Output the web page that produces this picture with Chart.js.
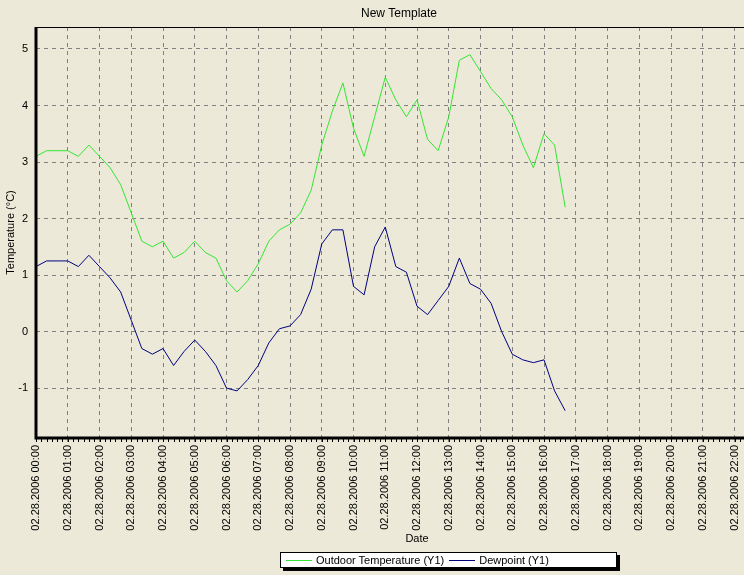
<!DOCTYPE html>
<html><head><meta charset="utf-8">
<script src="https://cdn.jsdelivr.net/npm/chart.js@4"></script>
<style>
html,body{margin:0;padding:0;background:#ECE9D8;overflow:hidden;width:744px;height:575px;}
#wrap{position:absolute;left:0;top:0;width:800px;height:575px;}
#legend{position:absolute;left:280px;top:552px;width:335px;height:14px;background:#fff;border:1px solid #000;box-shadow:3px 3px 0 #000;font:11px "Liberation Sans",Arial,sans-serif;color:#000;display:flex;align-items:center;white-space:nowrap;}
#legend .ln{display:inline-block;width:26px;height:0;border-top:1px solid;margin:0 4px 0 5px;}
</style></head>
<body>
<div id="wrap"><canvas id="c" width="800" height="575"></canvas></div>
<div id="legend"></div>
<script>
const times = ['00:00','00:20','00:40','01:00','01:20','01:40','02:00','02:20','02:40','03:00',
 '03:20','03:40','04:00','04:20','04:40','05:00','05:20','05:40','06:00','06:20',
 '06:40','07:00','07:20','07:40','08:00','08:20','08:40','09:00','09:20','09:40',
 '10:00','10:20','10:40','11:00','11:20','11:40','12:00','12:20','12:40','13:00',
 '13:20','13:40','14:00','14:20','14:40','15:00','15:20','15:40','16:00','16:20','16:40'];
const outdoorTemp = [3.1,3.2,3.2,3.2,3.1,3.3,3.1,2.9,2.6,2.1,
 1.6,1.5,1.6,1.3,1.4,1.6,1.4,1.3,0.9,0.7,
 0.9,1.2,1.6,1.8,1.9,2.1,2.5,3.3,3.9,4.4,
 3.6,3.1,3.8,4.5,4.1,3.8,4.1,3.4,3.2,3.8,
 4.8,4.9,4.6,4.3,4.1,3.8,3.3,2.9,3.5,3.3,2.2];
const dewpoint = [1.15,1.25,1.25,1.25,1.15,1.35,1.15,0.95,0.7,0.2,
 -0.3,-0.4,-0.3,-0.6,-0.35,-0.15,-0.35,-0.6,-1.0,-1.05,
 -0.85,-0.6,-0.2,0.05,0.1,0.3,0.75,1.55,1.8,1.8,
 0.8,0.65,1.5,1.85,1.15,1.05,0.45,0.3,0.55,0.8,
 1.3,0.85,0.75,0.5,0.0,-0.4,-0.5,-0.55,-0.5,-1.05,-1.4];
const seriesNames = ['Outdoor Temperature (Y1)','Dewpoint (Y1)'];
const seriesColors = ['#33e633','#000080'];
const datePrefix = '02.28.2006';
const hourLabels = ['00:00','01:00','02:00','03:00','04:00','05:00','06:00','07:00','08:00','09:00','10:00','11:00',
 '12:00','13:00','14:00','15:00','16:00','17:00','18:00','19:00','20:00','21:00','22:00','23:00'];
const yTicks = [-1,0,1,2,3,4,5];
const yMin = -1.883, yMax = 5.389;
const xMin = 0, xMax = 24;
const minorStepMin = 10;

const toHours = s => Number(s.slice(0,2)) + Number(s.slice(3))/60;
const FONT = '"Liberation Sans", Arial, sans-serif';

const axesPlugin = {
  id:'axesPlugin',
  afterDraw(chart){
    const {ctx, chartArea:a, scales:{x}} = chart;
    ctx.save();
    ctx.strokeStyle = '#000';
    ctx.lineWidth = 1;
    ctx.beginPath();
    ctx.moveTo(a.left, a.top + 0.5); ctx.lineTo(a.right, a.top + 0.5);
    for (let m = xMin*60; m <= xMax*60; m += minorStepMin) {
      const px = Math.round(x.getPixelForValue(m/60)) + 0.5;
      ctx.moveTo(px, a.bottom); ctx.lineTo(px, a.bottom + 4);
    }
    ctx.stroke();
    ctx.lineWidth = 3;
    ctx.beginPath();
    ctx.moveTo(a.left, a.top); ctx.lineTo(a.left, a.bottom); ctx.lineTo(a.right, a.bottom);
    ctx.stroke();
    ctx.restore();
  }
};

new Chart(document.getElementById('c'), {
  type:'line',
  data:{
    datasets:[
      {label:seriesNames[0], data:times.map((t,i)=>({x:toHours(t), y:outdoorTemp[i]})), borderColor:seriesColors[0], borderWidth:1, pointRadius:0, tension:0, fill:false},
      {label:seriesNames[1], data:times.map((t,i)=>({x:toHours(t), y:dewpoint[i]})), borderColor:seriesColors[1], borderWidth:1, pointRadius:0, tension:0, fill:false}
    ]
  },
  options:{
    responsive:false, animation:false, devicePixelRatio:1,
    layout:{padding:{left:0,right:2,top:0,bottom:27}},
    plugins:{
      legend:{display:false}, tooltip:{enabled:false},
      title:{display:true, text:'New Template', color:'#000', font:{family:FONT,size:12,weight:'normal'}, padding:{top:6,bottom:6.6}}
    },
    scales:{
      x:{type:'linear', min:xMin, max:xMax,
        afterBuildTicks:s=>{ s.ticks = hourLabels.map(h=>({value:toHours(h)})); },
        afterFit:s=>{ s.height = 110; },
        ticks:{autoSkip:false, minRotation:90, maxRotation:90, padding:3, color:'#000', font:{family:FONT,size:11},
          callback:(v,i)=> datePrefix + ' ' + hourLabels[i]},
        grid:{color:'#808080', lineWidth:1, drawTicks:true, tickLength:4},
        border:{display:false, dash:[4,4]},
        title:{display:true, text:'Date', color:'#000', font:{family:FONT,size:11}, padding:{top:0,bottom:2}}
      },
      y:{type:'linear', min:yMin, max:yMax,
        afterBuildTicks:s=>{ s.ticks = yTicks.map(v=>({value:v})); },
        afterFit:s=>{ s.width = 36; },
        ticks:{padding:8, color:'#000', font:{family:FONT,size:11}},
        grid:{color:'#808080', lineWidth:1, drawTicks:false},
        border:{display:false, dash:[4,4]},
        title:{display:true, text:'Temperature (°C)', color:'#000', font:{family:FONT,size:11}, padding:{top:4,bottom:0}}
      }
    }
  },
  plugins:[axesPlugin]
});

const lg = document.getElementById('legend');
seriesNames.forEach((n,i)=>{
  const l = document.createElement('span'); l.className='ln'; l.style.borderColor = seriesColors[i];
  const t = document.createElement('span'); t.textContent = n;
  lg.appendChild(l); lg.appendChild(t);
});
</script>
</body></html>
